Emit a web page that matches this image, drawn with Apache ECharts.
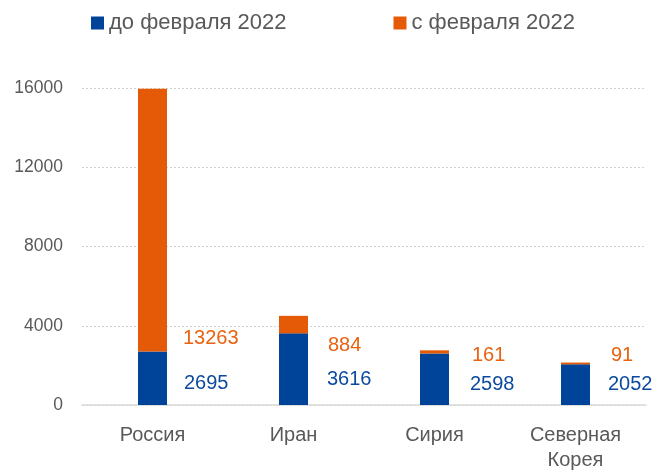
<!DOCTYPE html>
<html>
<head>
<meta charset="utf-8">
<script src="https://cdn.jsdelivr.net/npm/echarts@6/dist/echarts.min.js"></script>
<style>
  html, body { margin: 0; padding: 0; background: #fff; }
  #chart { width: 654px; height: 473px; }
</style>
</head>
<body>
<div id="chart"></div>
<script>
// данные
const categories = ['Россия', 'Иран', 'Сирия', 'Северная\nКорея'];
const beforeFeb = [2695, 3616, 2598, 2052];
const afterFeb = [13263, 884, 161, 91];
const seriesNames = ['до февраля 2022', 'с февраля 2022'];

// сдвиг подписей (как в исходной диаграмме, подписи разнесены вручную)
const beforeLabelShift = [[-2, 5], [0, 10], [2, 5], [-1, 0]];
const afterLabelShift = [[-3, 118], [1, 21], [4, 4], [2, -8]];

const font = '"Liberation Sans", Arial, sans-serif';
const BLUE = '#004499';
const ORANGE = '#e55a07';

const chart = echarts.init(document.getElementById('chart'));

function makeData(values, shifts) {
  return values.map((v, i) => ({
    value: v,
    label: { offset: shifts[i] }
  }));
}

chart.setOption({
  animation: false,
  legend: {
    top: 12,
    left: 91,
    padding: 0,
    itemWidth: 13,
    itemHeight: 13,
    itemGap: 107,
    icon: 'rect',
    textStyle: {
      fontFamily: font,
      fontSize: 22,
      color: '#595959'
    },
    data: seriesNames
  },
  grid: {
    left: 82,
    right: 8,
    top: 88,
    bottom: 68
  },
  xAxis: {
    type: 'category',
    data: categories,
    axisLine: { lineStyle: { color: '#d9d9d9', width: 1.5 } },
    axisTick: { show: false },
    axisLabel: {
      margin: 18,
      fontFamily: font,
      fontSize: 20,
      lineHeight: 25,
      color: '#595959',
      interval: 0
    }
  },
  yAxis: {
    type: 'value',
    min: 0,
    max: 16000,
    interval: 4000,
    axisLine: { show: false },
    axisTick: { show: false },
    splitLine: { lineStyle: { color: '#d0d0d0', type: [2, 2], width: 1 } },
    axisLabel: {
      margin: 19,
      fontFamily: font,
      fontSize: 17.5,
      color: '#595959',
      formatter: v => String(v)
    }
  },
  series: [
    {
      name: seriesNames[0],
      type: 'bar',
      stack: 'total',
      barWidth: 29,
      itemStyle: { color: BLUE },
      data: makeData(beforeFeb, beforeLabelShift),
      label: {
        show: true,
        position: 'right',
        distance: 19,
        fontFamily: font,
        fontSize: 20,
        color: '#0b4a9e'
      }
    },
    {
      name: seriesNames[1],
      type: 'bar',
      stack: 'total',
      barWidth: 29,
      itemStyle: { color: ORANGE },
      data: makeData(afterFeb, afterLabelShift),
      label: {
        show: true,
        position: 'right',
        distance: 19,
        fontFamily: font,
        fontSize: 20,
        color: '#e8620f'
      }
    }
  ]
});
</script>
</body>
</html>
